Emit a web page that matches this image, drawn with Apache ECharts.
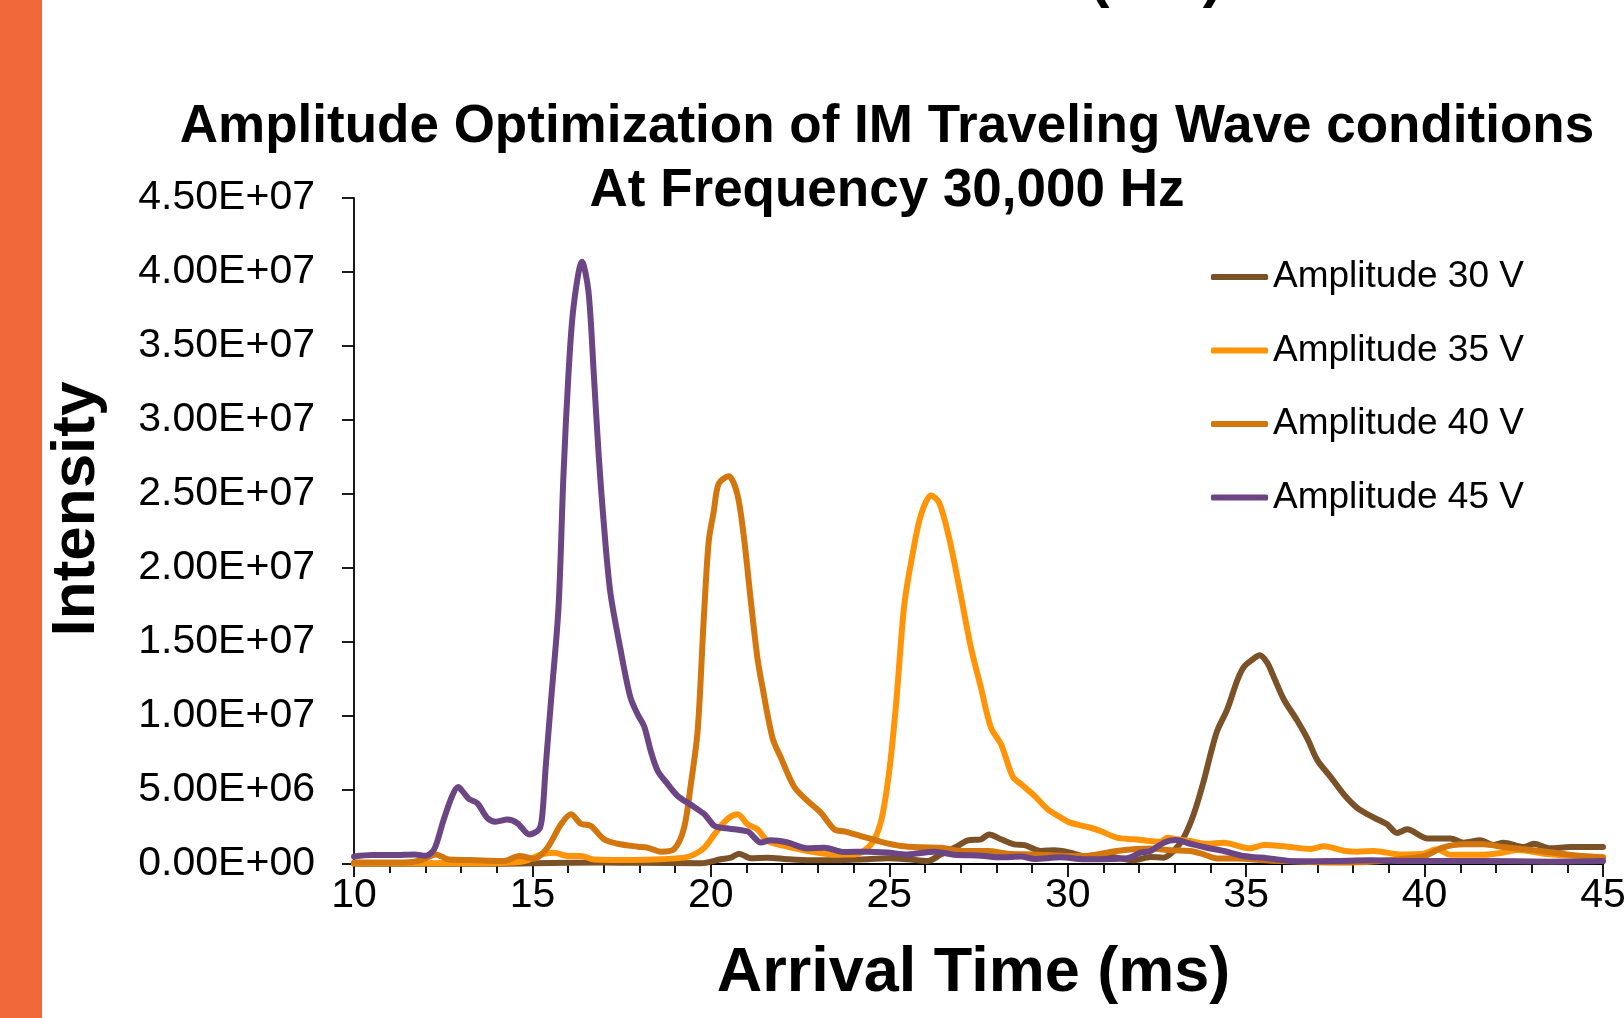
<!DOCTYPE html>
<html>
<head>
<meta charset="utf-8">
<title>Amplitude Optimization</title>
<script src="https://cdn.jsdelivr.net/npm/echarts@6.0.0/dist/echarts.min.js"></script>
<style>
  html, body { margin: 0; padding: 0; background: #fff; }
  #chart { width: 1624px; height: 1018px; }
</style>
</head>
<body>
<div id="chart"></div>
<script>
// 到达时间 (ms) 与强度 (单位 1E+06)
const amp30 = [
  [10, 0.02], [12, 0.02], [14, 0.02], [15, 0.05], [17, 0.1], [18, 0.08], [19.72, 0.05],
  [20.28, 0.32], [20.56, 0.43], [20.79, 0.7], [21.12, 0.39], [21.59, 0.43], [22.15, 0.32],
  [22.8, 0.25], [23.46, 0.25], [24.39, 0.32], [24.95, 0.39], [25.51, 0.32], [26.07, 0.2],
  [26.45, 0.65], [26.92, 1.22], [27.2, 1.6], [27.57, 1.67], [27.8, 2.0], [28.13, 1.67],
  [28.5, 1.33], [28.79, 1.28], [29.25, 0.88], [29.63, 0.93], [30.07, 0.77], [30.45, 0.54],
  [30.92, 0.54], [31.38, 0.43], [31.85, 0.25], [32.32, 0.47], [32.69, 0.43], [32.97, 0.88],
  [33.25, 1.78], [33.53, 3.36], [33.81, 5.6], [34.0, 7.4], [34.19, 9.0], [34.47, 10.45],
  [34.75, 12.4], [34.93, 13.3], [35.17, 13.8], [35.38, 14.1], [35.59, 13.6], [35.78, 12.6],
  [36.06, 11.1], [36.43, 9.7], [36.71, 8.5], [37.0, 7.0], [37.36, 5.9], [37.74, 4.7],
  [38.11, 3.8], [38.58, 3.13], [38.95, 2.68], [39.23, 2.1], [39.51, 2.34], [40.07, 1.73],
  [40.72, 1.73], [41.1, 1.44], [41.56, 1.6], [41.93, 1.28], [42.21, 1.44], [42.78, 1.15],
  [43.06, 1.37], [43.52, 1.06], [44.08, 1.15], [45, 1.15]
]

const amp35 = [
  [10, 0.05], [11.87, 0.05], [13.5, 0.05], [14.49, 0.1], [14.86, 0.25], [15.24, 0.65],
  [15.61, 0.76], [15.98, 0.54], [16.36, 0.54], [16.73, 0.3], [17.48, 0.27], [18.41, 0.3],
  [19.25, 0.43], [19.54, 0.65], [19.82, 1.1], [20.1, 2.0], [20.28, 2.57], [20.51, 3.13],
  [20.75, 3.36], [21.03, 2.68], [21.31, 2.34], [21.59, 1.55], [22.06, 1.22], [22.71, 0.88],
  [23.46, 0.65], [24.02, 0.65], [24.49, 1.33], [24.77, 2.9], [25.0, 6.3], [25.19, 10.8],
  [25.42, 17.5], [25.65, 20.9], [25.89, 23.6], [26.17, 24.9], [26.4, 24.4], [26.68, 22.0],
  [26.96, 18.7], [27.29, 14.6], [27.57, 11.9], [27.85, 9.2], [28.13, 8.1], [28.46, 5.9],
  [28.69, 5.4], [29.07, 4.6], [29.44, 3.7], [29.81, 3.13], [30.07, 2.79], [30.64, 2.45],
  [30.92, 2.23], [31.38, 1.78], [31.85, 1.67], [32.32, 1.55], [32.6, 1.5], [32.79, 1.78],
  [33.07, 1.67], [33.44, 1.55], [33.9, 1.37], [34.37, 1.44], [35.12, 1.06], [35.5, 1.28],
  [36.06, 1.2], [36.8, 1.02], [37.18, 1.2], [37.73, 0.9], [38.11, 0.83], [38.58, 0.88],
  [39.3, 0.65], [39.97, 0.7], [40.35, 0.99], [40.72, 0.63], [41.65, 0.63], [42.2, 0.77],
  [42.6, 0.95], [43.5, 0.65], [45, 0.47]
]

const amp40 = [
  [10, 0.1], [11.4, 0.1], [11.87, 0.25], [12.29, 0.65], [12.66, 0.3], [13.27, 0.27],
  [14.2, 0.2], [14.63, 0.54], [15.05, 0.36], [15.42, 1.1], [15.8, 2.68], [16.08, 3.36],
  [16.36, 2.72], [16.64, 2.57], [17.01, 1.67], [17.39, 1.37], [17.95, 1.17], [18.23, 1.1],
  [18.6, 0.83], [18.97, 1.0], [19.25, 2.45], [19.44, 5.4], [19.63, 9.0], [19.8, 16.5],
  [19.94, 21.8], [20.08, 23.8], [20.22, 25.7], [20.5, 26.2], [20.74, 25.0], [20.92, 22.2],
  [21.11, 18.0], [21.3, 14.0], [21.45, 11.9], [21.73, 8.5], [21.96, 7.2], [22.34, 5.2],
  [22.71, 4.26], [23.08, 3.47], [23.46, 2.34], [23.74, 2.2], [24.2, 1.89], [24.77, 1.5],
  [25.33, 1.22], [25.89, 1.13], [26.45, 1.1], [27.0, 0.88], [27.76, 0.88], [28.32, 0.7],
  [29.07, 0.65], [29.81, 0.56], [30.45, 0.54], [31.38, 0.88], [32.32, 1.04], [32.88, 0.93],
  [33.44, 0.88], [33.81, 0.65], [34.19, 0.38], [34.75, 0.38], [35.5, 0.25], [36.52, 0.16],
  [37.93, 0.1], [39.0, 0.25], [40.0, 0.54], [40.5, 1.1], [41.1, 1.33], [41.65, 1.33],
  [42.2, 1.15], [43.06, 0.93], [44.0, 0.65], [45, 0.43]
]

const amp45 = [
  [10, 0.5], [10.5, 0.6], [11.1, 0.6], [11.7, 0.65], [12.0, 0.55], [12.25, 1.0], [12.5, 2.9],
  [12.75, 4.6], [12.92, 5.2], [13.08, 4.8], [13.22, 4.4], [13.46, 4.1], [13.74, 3.1],
  [13.97, 2.86], [14.3, 3.0], [14.58, 2.75], [14.91, 2.0], [15.19, 2.35], [15.28, 3.4],
  [15.37, 6.5], [15.52, 11.0], [15.73, 17.3], [15.87, 26.3], [16.01, 33.1], [16.15, 37.6],
  [16.39, 40.7], [16.57, 38.7], [16.72, 33.1], [16.86, 27.5], [17.0, 23.0], [17.18, 18.4],
  [17.46, 14.6], [17.74, 11.3], [17.95, 10.1], [18.13, 9.3], [18.32, 7.6], [18.51, 6.3],
  [18.79, 5.4], [19.07, 4.6], [19.44, 4.0], [19.82, 3.36], [20.1, 2.57], [20.3, 2.45],
  [21.03, 2.2], [21.21, 1.8], [21.4, 1.45], [21.68, 1.6], [22.15, 1.45], [22.7, 1.06],
  [23.18, 1.1], [23.74, 0.81], [24.4, 0.83], [24.95, 0.77], [25.5, 0.65], [26.26, 0.83],
  [26.82, 0.63], [27.57, 0.56], [28.13, 0.45], [28.69, 0.5], [29.07, 0.34], [29.8, 0.45],
  [30.45, 0.32], [31.66, 0.39], [32.04, 0.77], [32.32, 0.88], [32.69, 1.44], [33.02, 1.62],
  [33.44, 1.37], [33.9, 1.1], [34.37, 0.88], [34.93, 0.54], [35.59, 0.39], [36.43, 0.18],
  [37.46, 0.2], [38.49, 0.25], [39.6, 0.2], [41.65, 0.2], [43.5, 0.16], [45, 0.2]
]

const seriesNames = ['Amplitude 30 V', 'Amplitude 35 V', 'Amplitude 40 V', 'Amplitude 45 V']
const seriesColors = ['#7B5128', '#FF9408', '#D4760E', '#6B4584']
const seriesData = [amp30, amp35, amp40, amp45]

const FONT = '"Liberation Sans", Arial, sans-serif'

// 0 -> 0.00E+00, 45000000 -> 4.50E+07
const sciLabel = (v) => {
  if (v === 0) return '0.00E+00'
  const e = Math.floor(Math.log10(v) + 1e-9)
  const m = v / Math.pow(10, e)
  return m.toFixed(2) + 'E+' + String(e).padStart(2, '0')
}

const drawChart = (option, id) => {
  let dom = document.getElementById(id)
  if (dom === null) return
  let chart = echarts.init(dom, null, { renderer: 'canvas' })
  option && chart.setOption(option)
}

const option = {
  animation: false,
  backgroundColor: '#fff',
  title: {
    text: 'Amplitude Optimization of IM Traveling Wave conditions\nAt Frequency 30,000 Hz',
    left: 887,
    top: 95,
    padding: 0,
    textAlign: 'center',
    textVerticalAlign: 'top',
    textStyle: {
      fontFamily: FONT,
      fontSize: 53,
      fontWeight: 'bold',
      lineHeight: 64,
      color: '#000'
    }
  },
  graphic: [
    {
      type: 'rect',
      shape: { x: 0, y: 0, width: 42, height: 1018 },
      style: { fill: '#F1693A' }
    },
    {
      // 幻灯片标题被截掉, 只剩括号下端
      type: 'text',
      x: 1156,
      y: -21,
      style: {
        text: '(TW)',
        font: 'bold 60px ' + FONT,
        fill: '#000',
        align: 'center',
        verticalAlign: 'middle'
      }
    }
  ],
  legend: {
    orient: 'vertical',
    left: 1211,
    top: 257,
    padding: 0,
    itemWidth: 57,
    itemHeight: 6,
    itemGap: 33.5,
    icon: 'roundRect',
    data: seriesNames,
    textStyle: {
      fontFamily: FONT,
      fontSize: 37,
      lineHeight: 40,
      color: '#000'
    }
  },
  grid: {
    left: 354,
    right: 21,
    top: 198,
    bottom: 154,
    containLabel: false,
    outerBoundsMode: 'none'
  },
  xAxis: {
    type: 'value',
    min: 10,
    max: 45,
    interval: 5,
    name: 'Arrival Time (ms)',
    nameLocation: 'middle',
    nameGap: 78,
    nameTextStyle: {
      fontFamily: FONT,
      fontSize: 63,
      fontWeight: 'bold',
      lineHeight: 63,
      color: '#000',
      padding: [0, 10, 0, 0]
    },
    axisLine: { show: true, onZero: false, lineStyle: { color: '#000', width: 1.8 } },
    axisTick: { show: true, length: 13, lineStyle: { color: '#000', width: 1.8 } },
    minorTick: { show: true, splitNumber: 5, length: 9, lineStyle: { color: '#000', width: 1.8 } },
    splitLine: { show: false },
    minorSplitLine: { show: false },
    axisLabel: {
      margin: 11,
      fontFamily: FONT,
      fontSize: 41,
      lineHeight: 41,
      color: '#000',
      showMinLabel: true,
      showMaxLabel: true,
      hideOverlap: false
    }
  },
  yAxis: {
    type: 'value',
    min: 0,
    max: 45000000,
    interval: 5000000,
    name: 'Intensity',
    nameLocation: 'middle',
    nameRotate: 90,
    nameGap: 246,
    nameTextStyle: {
      fontFamily: FONT,
      fontSize: 62,
      fontWeight: 'bold',
      lineHeight: 62,
      color: '#000',
      padding: [0, 0, 0, 44]
    },
    axisLine: { show: true, lineStyle: { color: '#000', width: 1.8 } },
    axisTick: { show: true, length: 12, lineStyle: { color: '#000', width: 1.8 } },
    splitLine: { show: false },
    axisLabel: {
      margin: 39,
      fontFamily: FONT,
      fontSize: 41,
      color: '#000',
      formatter: sciLabel
    }
  },
  series: seriesData.map((d, i) => ({
    type: 'line',
    name: seriesNames[i],
    data: d.map((p) => [p[0], p[1] * 1e6]),
    smooth: 0.3,
    showSymbol: false,
    symbol: 'none',
    color: seriesColors[i],
    lineStyle: {
      width: 6,
      color: seriesColors[i],
      cap: 'round',
      join: 'round'
    }
  }))
}

drawChart(option, 'chart')
</script>
</body>
</html>
